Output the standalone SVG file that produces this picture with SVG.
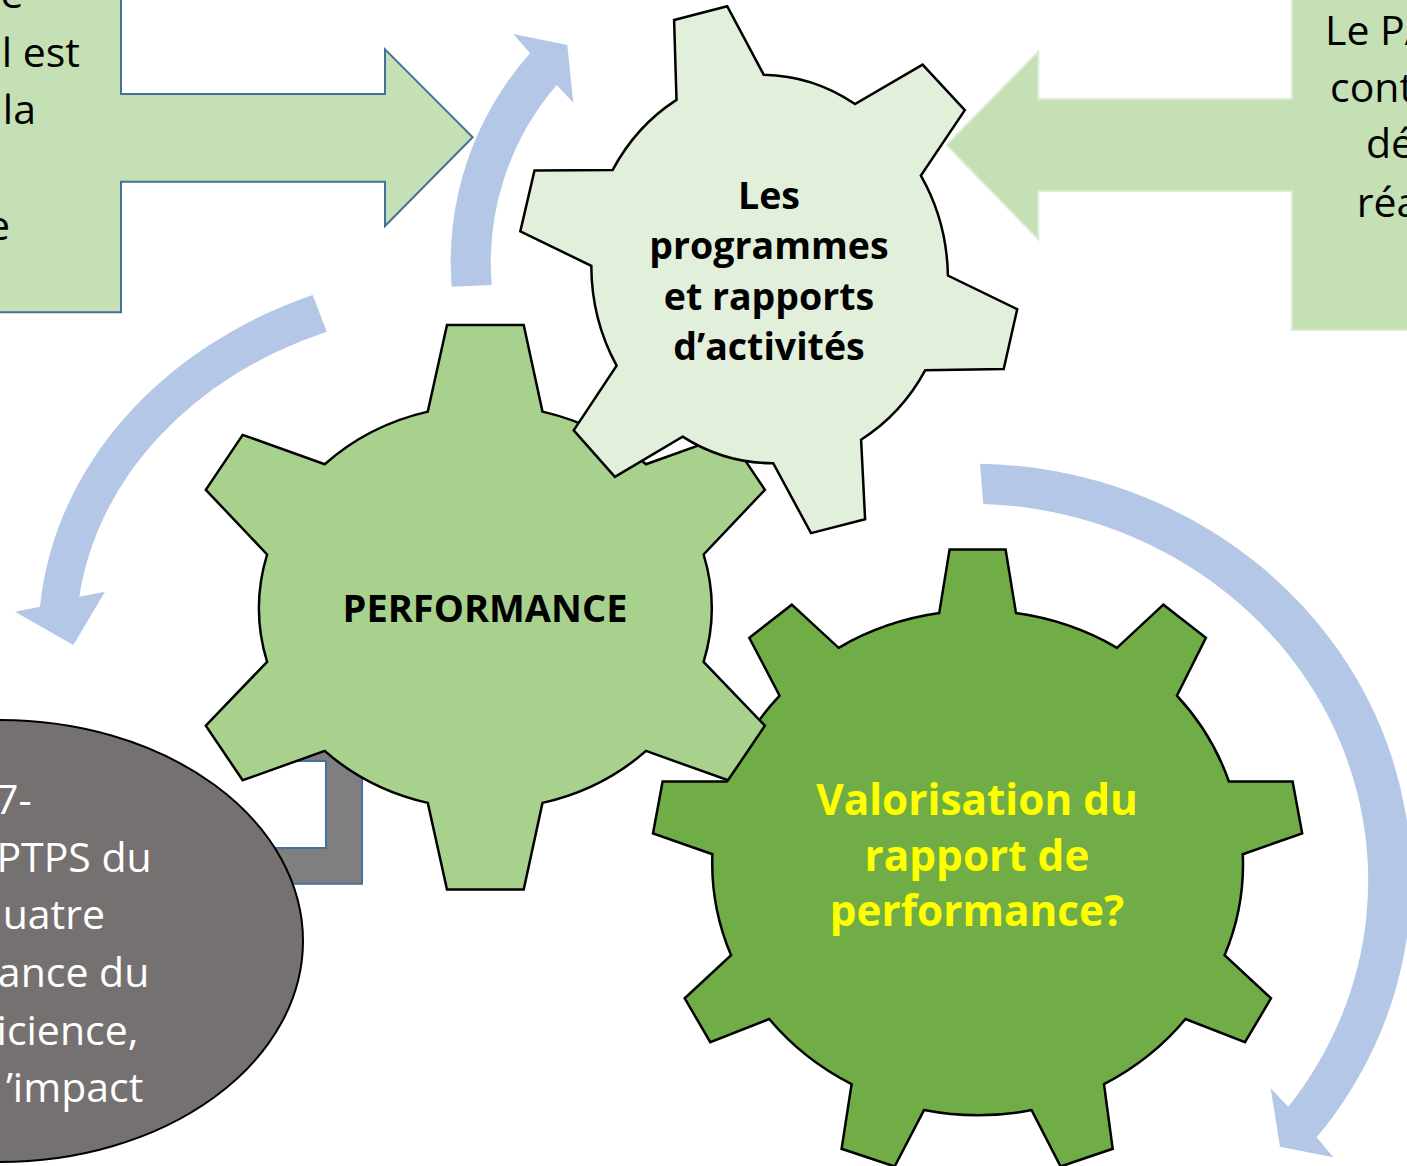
<svg xmlns="http://www.w3.org/2000/svg" width="1407" height="1166" viewBox="0 0 1407 1166">
  <style>
    .callout { fill: #C5E0B4; }
    .callout-l { stroke: #41719C; stroke-width: 2; }
    .callout-r { stroke: #DCEBD2; stroke-width: 2; }
    .cycle { fill: #B4C7E7; }
    .gear { stroke: #000000; stroke-width: 2.5; stroke-linejoin: miter; }
    .body { font-family: "Open Sans", "Liberation Sans", sans-serif; font-size: 41px; fill: #000000; }
    .bold { font-family: "Open Sans", "Liberation Sans", sans-serif; font-weight: bold; font-size: 37.5px; fill: #000000; text-anchor: middle; }
    .perf { font-size: 38px; }
    .yellow { font-family: "Open Sans", "Liberation Sans", sans-serif; font-weight: bold; font-size: 42.3px; fill: #FFFF00; text-anchor: middle; }
    .white { font-family: "Open Sans", "Liberation Sans", sans-serif; font-size: 41px; fill: #FFFFFF; text-anchor: end; }
  </style>

  <!-- connectors: callout arrows and circular cycle arrows -->
  <g id="connectors">
    <path id="cycle-top" class="cycle" d="M 451.7,286.7 A 313 313 0 0 1 530,53.3 L 513.3,34 L 567.3,45 L 573.3,102.7 L 556.7,85 A 272 272 0 0 0 491.7,285 Z"/>
    <path id="cycle-left" class="cycle" d="M 312.7,295 A 440 370 0 0 0 40,606.7 L 15,611.7 L 73.3,645 L 105,591.7 L 79.3,596.7 A 400 330 0 0 1 326.7,331.7 Z"/>
    <path id="cycle-right" class="cycle" d="M 980,463.7 A 440 416 0 0 1 1316.7,1137.3 L 1333.3,1157.3 L 1280,1146.7 L 1270.7,1088.3 L 1288.3,1106.7 A 400 377 0 0 0 983.3,503.9 Z"/>
    <path id="bracket" d="M 280,728 L 362,728 L 362,883.7 L 250,883.7 L 250,848 L 326,848 L 326,761 L 280,761 Z" fill="#7F7F7F" stroke="#41719C" stroke-width="2"/>
  </g>

  <!-- left callout box with arrow -->
  <g id="callout-left">
    <path class="callout callout-l" d="M -5,-5 L 121,-5 L 121,94 L 385,94 L 385,49.3 L 472.7,137.3 L 385,226 L 385,181.7 L 121,181.7 L 121,312.3 L -5,312.3 Z"/>
    <text class="body" text-anchor="end" x="23.5" y="8">e</text>
    <text class="body" text-anchor="end" x="80" y="66.7">l est</text>
    <text class="body" text-anchor="end" x="36" y="124">la</text>
    <text class="body" text-anchor="end" x="10" y="240">e</text>
  </g>

  <!-- right callout box with arrow -->
  <g id="callout-right">
    <path class="callout callout-r" d="M 1412,-5 L 1412,330 L 1292,330 L 1292,191 L 1038.3,191 L 1038.3,239.3 L 946.7,145 L 1038.3,51.7 L 1038.3,99 L 1292,99 L 1292,-5 Z"/>
    <text class="body" x="1325" y="45">Le PA</text>
    <text class="body" x="1330" y="101.7">cont</text>
    <text class="body" x="1366" y="158.3">dé</text>
    <text class="body" x="1356.7" y="216.7">réa</text>
  </g>

  <!-- grey ellipse -->
  <g id="ellipse-ptps">
    <ellipse cx="0" cy="941" rx="303" ry="221" fill="#767171" stroke="#000000" stroke-width="2"/>
    <text class="white" x="31.7" y="814">7-</text>
    <text class="white" x="151.7" y="871.7">PTPS du</text>
    <text class="white" x="105" y="929.4">uatre</text>
    <text class="white" x="149.3" y="987">ance du</text>
    <text class="white" x="138.3" y="1044.7">icience,</text>
    <text class="white" x="143.3" y="1102.4">’impact</text>
  </g>

  <!-- dark gear -->
  <g id="gear-valorisation">
    <path class="gear" fill="#70AD47" d="M 939.2,613.1 L 949.6,549.6 L 1005.6,549.6 L 1016,613.1 A 266 249 0 0 1 1117,647.8 L 1163.4,604.7 L 1205.9,637.8 L 1176.9,695.7 A 266 249 0 0 1 1228.9,781.5 L 1292.6,781.5 L 1302.2,833.4 L 1242.8,854.2 A 266 249 0 0 1 1224.6,955.2 L 1271,998.3 L 1245,1042.2 L 1185.5,1019 A 266 249 0 0 1 1104,1084.1 L 1112.7,1148.8 L 1060.6,1166.5 L 1031.6,1110.1 A 266 249 0 0 1 924,1110.1 L 894.6,1166.5 L 841.6,1148.8 L 851.6,1084.1 A 266 249 0 0 1 769.2,1019 L 710.3,1042.2 L 684.7,998.3 L 731.1,955.2 A 266 249 0 0 1 712.4,854.2 L 653,833.4 L 662.6,781.5 L 726.7,781.5 A 266 249 0 0 1 779.6,695.7 L 749.3,637.8 L 791.8,604.7 L 838.6,647.8 A 266 249 0 0 1 939.2,613.1 Z"/>
    <text class="yellow" x="977" y="814.7">Valorisation du</text>
    <text class="yellow" x="977" y="870.5">rapport de</text>
    <text class="yellow" x="977" y="926.4">performance?</text>
  </g>

  <!-- middle gear -->
  <g id="gear-performance">
    <path class="gear" fill="#A9D18E" d="M 427.8,411.6 L 447,325 L 523.7,325 L 542.5,411.6 A 226 202.5 0 0 1 646,464.3 L 728,434.9 L 764.9,489.8 L 703.6,554.5 A 226 202.5 0 0 1 703.6,661.8 L 764.9,725.7 L 728,780.3 L 646,750.9 A 226 202.5 0 0 1 542.5,802.9 L 523.7,889.4 L 447,889.4 L 427.8,802.9 A 226 202.5 0 0 1 324.7,750.9 L 242.7,780.3 L 205.8,725.7 L 267.1,661.8 A 226 202.5 0 0 1 267.1,554.5 L 205.8,489.8 L 242.7,434.9 L 324.7,464.3 A 226 202.5 0 0 1 427.8,411.6 Z"/>
    <text class="bold perf" x="485" y="621.5">PERFORMANCE</text>
  </g>

  <!-- light gear -->
  <g id="gear-programmes">
    <path class="gear" fill="#E2EFDA" d="M 676.5,99.9 L 674.1,20 L 727.2,6.2 L 763.7,74.7 A 179 196 0 0 1 855,104 L 922.6,64.7 L 964.8,110.2 L 920.9,175.6 A 179 196 0 0 1 947.9,275.5 L 1017.2,309.2 L 1003.7,369.1 L 925.3,370.2 A 179 196 0 0 1 861.1,439.7 L 865.1,519.3 L 811,533.1 L 773.2,463.2 A 179 196 0 0 1 682.6,436.6 L 614.9,476.9 L 573.7,430.4 L 616.6,365.7 A 179 196 0 0 1 591.3,265.8 L 520.3,231.4 L 534.5,170.5 L 612.6,170.1 A 179 196 0 0 1 676.5,99.9 Z"/>
    <text class="bold" x="769" y="208.5">Les</text>
    <text class="bold" x="769" y="259">programmes</text>
    <text class="bold" x="769" y="309.5">et rapports</text>
    <text class="bold" x="769" y="360">d’activités</text>
  </g>
</svg>
